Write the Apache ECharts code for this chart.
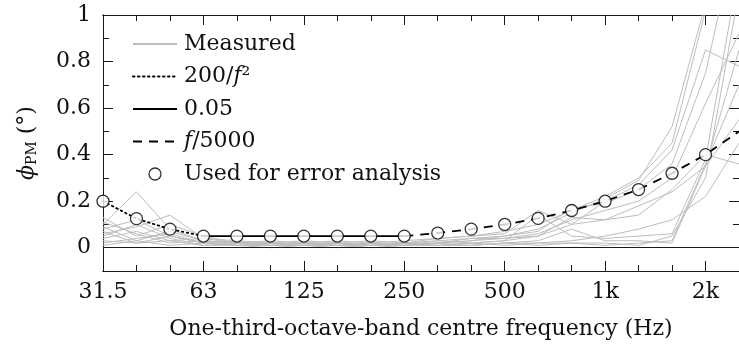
<!DOCTYPE html>
<html><head><meta charset="utf-8">
<script src="https://cdn.jsdelivr.net/npm/echarts@6/dist/echarts.min.js"></script>
<style>html,body{margin:0;padding:0;background:#fff}#c{width:739px;height:349px}</style>
</head><body>
<div id="c"></div>
<script>
// One-third-octave bands (x categories, placed by band index on a value axis)
const bands = ['31.5','40','50','63','80','100','125','160','200','250','315','400','500','630','800','1k','1.25k','1.6k','2k','2.5k'];
const xMajorLabels = ['31.5','63','125','250','500','1k','2k'];
const yMajorLabels = ['0','0.2','0.4','0.6','0.8','1'];
const yMinorValues = [0.1,0.3,0.5,0.7,0.9];

// Measured curves (one value per band)
const measured1  = [0.10,0.24,0.08,0.03,0.02,0.02,0.01,0.02,0.01,0.02,0.03,0.04,0.05,0.08,0.15,0.21,0.29,0.52,1.05,1.60];
const measured2  = [0.06,0.09,0.14,0.04,0.03,0.02,0.03,0.02,0.03,0.02,0.04,0.05,0.07,0.10,0.16,0.22,0.30,0.45,1.02,1.50];
const measured3  = [0.13,0.05,0.10,0.05,0.02,0.03,0.02,0.03,0.02,0.03,0.04,0.05,0.06,0.16,0.10,0.20,0.27,0.42,0.85,0.78];
const measured4  = [0.08,0.12,0.05,0.02,0.03,0.01,0.02,0.01,0.02,0.01,0.02,0.03,0.05,0.07,0.17,0.19,0.25,0.36,0.75,1.40];
const measured5  = [0.04,0.07,0.03,0.04,0.02,0.02,0.01,0.02,0.01,0.02,0.02,0.04,0.04,0.06,0.12,0.16,0.20,0.30,0.62,0.92];
const measured6  = [0.02,0.04,0.06,0.02,0.01,0.02,0.02,0.01,0.02,0.01,0.03,0.02,0.03,0.05,0.13,0.12,0.14,0.25,0.40,0.36];
const measured7  = [0.09,0.03,0.07,0.03,0.02,0.01,0.02,0.02,0.01,0.02,0.01,0.02,0.03,0.14,0.05,0.04,0.05,0.06,0.38,1.20];
const measured8  = [0.05,0.10,0.04,0.01,0.01,0.02,0.01,0.01,0.02,0.01,0.02,0.01,0.02,0.03,0.08,0.03,0.03,0.02,0.35,0.85];
const measured9  = [0.03,0.02,0.05,0.02,0.01,0.01,0.01,0.00,0.01,0.01,0.01,0.02,0.01,0.02,0.02,0.01,0.02,0.03,0.36,0.70];
const measured10 = [0.11,0.06,0.02,0.03,0.01,0.01,0.02,0.01,0.01,0.02,0.01,0.01,0.02,0.01,0.02,0.02,0.01,0.05,0.30,1.10];
const measured11 = [0.07,0.02,0.03,0.01,0.02,0.01,0.01,0.02,0.01,0.01,0.02,0.03,0.04,0.05,0.10,0.12,0.18,0.24,0.35,0.55];
const measured12 = [0.01,0.03,0.01,0.02,0.01,0.00,0.01,0.01,0.00,0.01,0.01,0.01,0.02,0.02,0.03,0.05,0.08,0.12,0.22,0.45];
const measuredAll = [measured1,measured2,measured3,measured4,measured5,measured6,measured7,measured8,measured9,measured10,measured11,measured12];

// Limit curves
const dottedBands = ['31.5','40','50','63'];
const dottedValues = [0.2,0.125,0.08,0.05];
const constBands = ['63','80','100','125','160','200','250'];
const constValues = [0.05,0.05,0.05,0.05,0.05,0.05,0.05];
const dashedBands = ['250','315','400','500','630','800','1k','1.25k','1.6k','2k','2.5k'];
const dashedValues = [0.05,0.063,0.08,0.1,0.126,0.16,0.2,0.25,0.32,0.4,0.5];
// Points used for error analysis
const usedBands = ['31.5','40','50','63','80','100','125','160','200','250','315','400','500','630','800','1k','1.25k','1.6k','2k'];
const usedValues = [0.2,0.125,0.08,0.05,0.05,0.05,0.05,0.05,0.05,0.05,0.063,0.08,0.1,0.126,0.16,0.2,0.25,0.32,0.4];

const FONT = 'DejaVu Serif';
const FS = 22;
const AX = '#1a1a1a';
const bi = b => bands.indexOf(b);
const pairs = (bs, vs) => bs.map((b, i) => [bi(b), vs[i]]);

const xMajor = xMajorLabels.map(bi);
const xMinor = bands.map((b, i) => i).filter(i => xMajor.indexOf(i) < 0 && i < bands.length - 1);
const yMajor = yMajorLabels.map(Number);

function xAxisDef(pos, vals, len, showLabel) {
  return {
    type: 'value', position: pos, min: 0, max: bands.length - 1,
    axisLine: {show: true, onZero: false, lineStyle: {color: AX, width: 1}},
    axisTick: {show: true, inside: true, length: len, customValues: vals, lineStyle: {color: AX, width: 1}},
    axisLabel: {show: showLabel, customValues: vals, formatter: v => bands[Math.round(v)],
      margin: 10, color: '#111', fontFamily: FONT, fontSize: FS},
    splitLine: {show: false}
  };
}
function yAxisDef(pos, vals, len, showLabel) {
  return {
    type: 'value', position: pos, min: -0.1, max: 1,
    axisLine: {show: true, onZero: false, lineStyle: {color: AX, width: 1}},
    axisTick: {show: true, inside: true, length: len, customValues: vals, lineStyle: {color: AX, width: 1}},
    axisLabel: {show: showLabel, customValues: vals, formatter: v => yMajorLabels[yMajor.indexOf(Math.round(v * 10) / 10)] || String(v),
      margin: 12, color: '#111', fontFamily: FONT, fontSize: FS},
    splitLine: {show: false}
  };
}

const xAxes = [xAxisDef('bottom', xMajor, 10, true), xAxisDef('bottom', xMinor, 6, false),
               xAxisDef('top', xMajor, 10, false), xAxisDef('top', xMinor, 6, false)];
xAxes[0].name = 'One-third-octave-band centre frequency (Hz)';
xAxes[0].nameLocation = 'middle';
xAxes[0].nameGap = 47;
xAxes[0].nameTextStyle = {fontFamily: FONT, fontSize: FS, color: '#111'};

const yAxes = [yAxisDef('left', yMajor, 10, true), yAxisDef('left', yMinorValues, 6, false),
               yAxisDef('right', yMajor, 10, false), yAxisDef('right', yMinorValues, 6, false)];
yAxes[0].name = '{phi|ϕ}{sub|PM} (°)';
yAxes[0].nameLocation = 'middle';
yAxes[0].nameGap = 64;
yAxes[0].nameRotate = 90;
yAxes[0].nameTextStyle = {fontFamily: FONT, fontSize: FS, color: '#111',
  rich: {phi: {fontFamily: FONT, fontSize: FS, fontStyle: 'italic', color: '#111'},
         sub: {fontFamily: FONT, fontSize: 14, color: '#111', padding: [9, 0, 0, 0]}}};

const series = [];
measuredAll.forEach((arr, k) => {
  series.push({
    name: 'Measured', type: 'line', data: arr.map((v, i) => [i, v]),
    symbol: 'none', silent: true, z: 1,
    lineStyle: {color: '#bdbdbd', width: 1}, itemStyle: {color: '#bdbdbd'},
    markLine: k === 0 ? {silent: true, symbol: 'none', label: {show: false},
      lineStyle: {color: '#1a1a1a', width: 1, type: 'solid'}, data: [{yAxis: 0}]} : undefined
  });
});
series.push({name: '200/f^2', type: 'line', data: pairs(dottedBands, dottedValues), symbol: 'none', z: 3,
  lineStyle: {color: '#000', width: 1.8, type: [1.5, 3.5], cap: 'round'}, itemStyle: {color: '#000'}});
series.push({name: '0.05', type: 'line', data: pairs(constBands, constValues), symbol: 'none', z: 3,
  lineStyle: {color: '#000', width: 1.6, type: 'solid'}, itemStyle: {color: '#000'}});
series.push({name: 'f/5000', type: 'line', data: pairs(dashedBands, dashedValues), symbol: 'none', z: 3,
  lineStyle: {color: '#000', width: 1.8, type: [9, 7]}, itemStyle: {color: '#000'}});
series.push({name: 'Used for error analysis', type: 'scatter', data: pairs(usedBands, usedValues),
  symbol: 'circle', symbolSize: 12, z: 5,
  itemStyle: {color: '#fff', borderColor: '#000', borderWidth: 1.3}});

const legendNames = {
  'Measured': 'Measured',
  '200/f^2': '200/{it|f}²',
  '0.05': '0.05',
  'f/5000': '{it|f}/5000',
  'Used for error analysis': 'Used for error analysis'
};
const noSym = {opacity: 0};

const chart = echarts.init(document.getElementById('c'), null, {renderer: 'canvas'});
chart.setOption({
  animation: false,
  backgroundColor: '#fff',
  textStyle: {fontFamily: FONT},
  grid: {left: 103, right: -8, top: 15, bottom: 78, containLabel: false},
  xAxis: xAxes,
  yAxis: yAxes,
  legend: {
    orient: 'vertical', left: 127, top: 28, padding: 5,
    itemWidth: 44, itemHeight: 12, itemGap: 10.5,
    selectedMode: false,
    textStyle: {fontFamily: FONT, fontSize: FS, lineHeight: 22, color: '#111', padding: [0, 0, 0, 2],
      rich: {it: {fontFamily: FONT, fontSize: FS, lineHeight: 22, fontStyle: 'italic', color: '#111'}}},
    data: [{name: 'Measured', itemStyle: noSym}, {name: '200/f^2', itemStyle: noSym},
           {name: '0.05', itemStyle: noSym}, {name: 'f/5000', itemStyle: noSym},
           {name: 'Used for error analysis', icon: 'circle',
            itemStyle: {color: '#fff', borderColor: '#000', borderWidth: 1.3}}],
    formatter: n => legendNames[n]
  },
  series: series
});
</script>
</body></html>
